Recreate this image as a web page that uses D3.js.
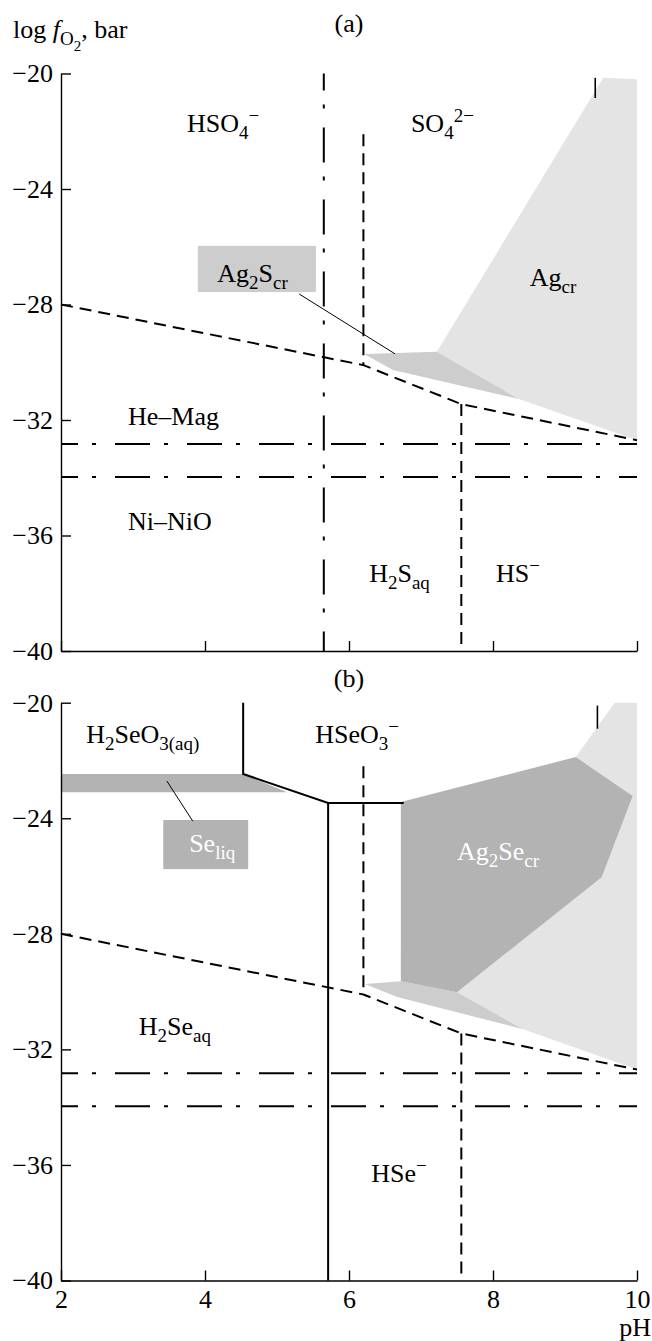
<!DOCTYPE html>
<html>
<head>
<meta charset="utf-8">
<script src="https://cdn.jsdelivr.net/npm/d3@7"></script>
<style>
body{margin:0;background:#fff}
</style>
</head>
<body>
<div id="viz"></div>
<script>
//Chart data (pH vs log fO2)

let phTicks = [2, 4, 6, 8, 10]
let fo2Ticks = [-20, -24, -28, -32, -36, -40]

//buffer lines
let heMag = -32.83
let niNiO = -33.97

//sulfate / sulfide boundary, same in both panels
let redoxBoundary = [[2, -28], [6.2, -30.1], [7.56, -31.45], [10, -32.7]]

//panel a fields
let agCrA = [[9.53, -20.15], [10, -20.2], [10, -32.7], [8.36, -31.27], [7.22, -29.64]]
let ag2sA = [[6.21, -29.71], [7.22, -29.64], [8.36, -31.27], [6.61, -30.27]]

//panel b fields
let agCrB = [[9.69, -20], [10, -20], [10, -32.7], [8.42, -31.3], [7.5, -30.02], [9.51, -26.04], [9.94, -23.23], [9.15, -21.88]]
let ag2sB = [[6.22, -29.74], [6.72, -29.64], [7.5, -30.02], [8.42, -31.3], [6.67, -30.19]]
let ag2seB = [[6.72, -23.44], [9.15, -21.88], [9.94, -23.23], [9.51, -26.04], [7.5, -30.02], [6.72, -29.64]]
let seLiqB = [[2, -22.47], [4.53, -22.47], [5.14, -23.1], [2, -23.1]]
let seleniteBoundary = [[4.53, -20], [4.53, -22.47], [5.71, -23.47], [6.76, -23.47]]
let selenideBoundary = [[5.71, -23.47], [5.71, -40]]

let FONT = "'Liberation Serif', 'Times New Roman', serif"
let INK = "#000"

let svg = d3.select('#viz').append('svg').attr("width", 652).attr("height", 1341)

let x = d3.scaleLinear().domain([2, 10]).range([61, 637])
let yA = d3.scaleLinear().domain([-40, -20]).range([651, 73.5])
let yB = d3.scaleLinear().domain([-40, -20]).range([1280.5, 702.7])

function poly(y, pts, fill){
    let line = d3.line().x(d => x(d[0])).y(d => y(d[1]))
    svg.append("path").attr("d", line(pts) + "Z").attr("fill", fill).attr("stroke", "none")
}

function path(y, pts, dash, w=2){
    let line = d3.line().x(d => x(d[0])).y(d => y(d[1]))
    let p = svg.append("path").attr("d", line(pts)).attr("fill", "none")
        .attr("stroke", INK).attr("stroke-width", w)
    if(dash){ p.attr("stroke-dasharray", dash[0]).attr("stroke-dashoffset", dash[1] || 0) }
    return p
}

let DASH = ["12,7", 0]
let DASHDOT = ["35,14,4,19", 18]

//text with sub/superscripts made of tspans
function richText(px, py, parts, fill=INK, anchor="start"){
    let t = svg.append("text").attr("x", px).attr("y", py).attr("font-family", FONT)
        .attr("font-size", 26).attr("fill", fill).attr("text-anchor", anchor)
    let cur = 0
    parts.forEach(p => {
        let s = p[0], k = p[1] || ""
        let off = k == "sub" ? 7 : k == "sup" ? -10 : k == "subsub" ? 13 : 0
        let size = (k == "sub" || k == "sup") ? 19 : k == "subsub" ? 15 : 26
        let ts = t.append("tspan").text(s).attr("font-size", size).attr("dy", off - cur)
        if(k == "it"){ ts.attr("font-style", "italic") }
        cur = off
    })
    return t
}

function axes(y, showX){
    let gy = svg.append("g").attr("transform", `translate(${x(2)},0)`)
        .call(d3.axisLeft(y).tickValues(fo2Ticks).tickSizeInner(-10).tickSizeOuter(0).tickPadding(8))
    let gx = svg.append("g").attr("transform", `translate(0,${y(-40)})`)
        .call(d3.axisBottom(x).tickValues(phTicks).tickSizeInner(-10).tickSizeOuter(0).tickPadding(9)
            .tickFormat(showX ? d3.format("d") : ""))
    ;[gy, gx].forEach(g => {
        g.attr("font-family", FONT).attr("font-size", 26)
        g.selectAll("path,line").attr("stroke", INK).attr("stroke-width", 1.4)
        g.selectAll("text").attr("font-family", FONT).attr("font-size", 26).attr("fill", INK)
    })
}

//Panel (a)
poly(yA, agCrA, "#e4e4e4")
poly(yA, ag2sA, "#cdcdcd")
path(yA, redoxBoundary, DASH)
path(yA, [[5.65, -20], [5.65, -40]], DASHDOT)
path(yA, [[6.2, -22.1], [6.2, -30.1]], DASH)
path(yA, [[7.56, -31.45], [7.56, -40]], DASH)
path(yA, [[9.42, -20.15], [9.42, -20.85]], null, 1.6)
path(yA, [[2, heMag], [10, heMag]], DASHDOT)
path(yA, [[2, niNiO], [10, niNiO]], DASHDOT)
axes(yA, false)

svg.append("rect").attr("x", x(3.9)).attr("y", yA(-25.97))
    .attr("width", x(5.54) - x(3.9)).attr("height", yA(-27.57) - yA(-25.97)).attr("fill", "#cdcdcd")
path(yA, [[5.31, -27.64], [6.64, -29.71]], null, 1)

richText(x(6), yA(-18.56), [["(a)"]], INK, "middle")
richText(13, 38, [["log "], ["f", "it"], ["O", "sub"], ["2", "subsub"], [", bar"]])
richText(x(3.75), yA(-22.03), [["HSO"], ["4", "sub"], ["\u2212", "sup"]])
richText(x(6.86), yA(-22.03), [["SO"], ["4", "sub"], ["2\u2212", "sup"]])
richText(x(4.17), yA(-27.22), [["Ag"], ["2", "sub"], ["S"], ["cr", "sub"]])
richText(x(8.51), yA(-27.36), [["Ag"], ["cr", "sub"]])
richText(x(2.93), yA(-32.17), [["He\u2013Mag"]])
richText(x(2.93), yA(-35.81), [["Ni\u2013NiO"]])
richText(x(6.28), yA(-37.61), [["H"], ["2", "sub"], ["S"], ["aq", "sub"]])
richText(x(8.04), yA(-37.61), [["HS"], ["\u2212", "sup"]])

//Panel (b)
poly(yB, agCrB, "#e4e4e4")
poly(yB, ag2sB, "#cdcdcd")
poly(yB, ag2seB, "#b3b3b3")
poly(yB, seLiqB, "#b3b3b3")
path(yB, redoxBoundary, DASH)
path(yB, [[6.2, -22.2], [6.2, -30.1]], DASH)
path(yB, [[7.56, -31.45], [7.56, -40]], DASH)
path(yB, seleniteBoundary, null, 2)
path(yB, selenideBoundary, null, 2)
path(yB, [[9.45, -20.1], [9.45, -20.9]], null, 1.6)
path(yB, [[2, heMag], [10, heMag]], DASHDOT)
path(yB, [[2, niNiO], [10, niNiO]], DASHDOT)
axes(yB, true)

svg.append("rect").attr("x", x(3.42)).attr("y", yB(-24.06))
    .attr("width", x(4.6) - x(3.42)).attr("height", yB(-25.76) - yB(-24.06)).attr("fill", "#b3b3b3")
path(yB, [[3.47, -22.71], [3.83, -24.1]], null, 1)

richText(x(6), yB(-19.44), [["(b)"]], INK, "middle")
richText(x(2.35), yB(-21.4), [["H"], ["2", "sub"], ["SeO"], ["3(aq)", "sub"]])
richText(x(5.53), yB(-21.4), [["HSeO"], ["3", "sub"], ["\u2212", "sup"]])
richText(x(3.78), yB(-25.17), [["Se"], ["liq", "sub"]], "#fff")
richText(x(7.5), yB(-25.45), [["Ag"], ["2", "sub"], ["Se"], ["cr", "sub"]], "#fff")
richText(x(3.08), yB(-31.51), [["H"], ["2", "sub"], ["Se"], ["aq", "sub"]])
richText(x(6.31), yB(-36.6), [["HSe"], ["\u2212", "sup"]])
richText(651, 1336, [["pH"]], INK, "end")
</script>
</body>
</html>
